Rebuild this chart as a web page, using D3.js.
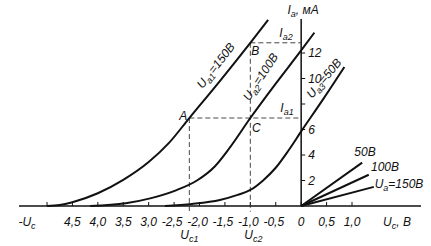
<!DOCTYPE html>
<html>
<head>
<meta charset="utf-8">
<script src="https://cdn.jsdelivr.net/npm/d3@7"></script>
<style>
  body { margin: 0; background: #fff; }
  text { font-family: "Liberation Sans", Arial, sans-serif; font-style: italic; fill: #111; }
</style>
</head>
<body>
<svg id="chart" width="431" height="246"></svg>
<script>
// anode-grid characteristics, Ia (mA) vs Uc (V)
const ua150 = [[-5.0,0],[-4.75,0.08],[-4.5,0.3],[-4.0,1.0],[-3.5,2.05],[-3.0,3.45],[-2.6,4.95],[-2.2,6.9],[-1.6,9.8],[-1.0,12.8],[-0.65,14.6]];
const ua100 = [[-4.15,0],[-3.45,0.22],[-2.95,0.62],[-2.45,1.25],[-2.05,2.0],[-1.7,3.1],[-1.4,4.6],[-1.0,6.9],[-0.5,9.6],[0,12.2],[0.26,13.6]];
const ua50  = [[-2.68,0],[-2.15,0.16],[-1.6,0.47],[-1.25,0.87],[-1.0,1.26],[-0.76,1.97],[-0.5,3.0],[-0.25,4.35],[0,5.85],[0.42,8.3],[0.85,10.9]];
// positive-grid branches
const pos50  = [[0,0],[1.2,3.4]];
const pos100 = [[0,0],[1.33,2.45]];
const pos150 = [[0,0],[1.43,1.5]];

const xTicks = [-5.0,-4.5,-4.0,-3.5,-3.0,-2.5,-2.0,-1.5,-1.0,-0.5,0,0.5,1.0];
const xTickLabels = ["","4,5","4,0","3,5","3,0","-2,5","-2,0","-1,5","-1,0","-0,5","0","0,5","1,0"];
const yTicks = [2,4,6,8,10,12];
const yTickLabels = ["2","4","6","","10","12"];

const uc1 = -2.2, uc2 = -1.0, ia1 = 6.9, ia2 = 12.8;

const svg = d3.select("#chart");
const x = d3.scaleLinear().domain([-5, 1]).range([47, 352]);
const y = d3.scaleLinear().domain([0, 12]).range([206, 53]);

const line = d3.line().x(d => x(d[0])).y(d => y(d[1])).curve(d3.curveMonotoneX);
const ink = "#111";

// axes
svg.append("line").attr("x1", 19).attr("x2", 421).attr("y1", y(0)).attr("y2", y(0))
    .attr("stroke", ink).attr("stroke-width", 1.5);
svg.append("line").attr("x1", x(0)).attr("x2", x(0)).attr("y1", y(0)).attr("y2", 19)
    .attr("stroke", ink).attr("stroke-width", 1.5);

svg.selectAll(".xt").data(xTicks).join("line").attr("class", "xt")
    .attr("x1", d => x(d)).attr("x2", d => x(d))
    .attr("y1", y(0)).attr("y2", y(0) - 4)
    .attr("stroke", ink).attr("stroke-width", 1);
svg.selectAll(".xl").data(xTicks).join("text").attr("class", "xl")
    .attr("x", (d, i) => x(d) + (xTickLabels[i][0] === "-" ? -2 : 0))
    .attr("y", 226)
    .attr("text-anchor", "middle").attr("font-size", 12)
    .text((d, i) => xTickLabels[i]);

svg.selectAll(".yt").data(yTicks).join("line").attr("class", "yt")
    .attr("x1", x(0)).attr("x2", x(0) + 4)
    .attr("y1", d => y(d)).attr("y2", d => y(d))
    .attr("stroke", ink).attr("stroke-width", 1);
svg.selectAll(".yl").data(yTicks).join("text").attr("class", "yl")
    .attr("x", x(0) + 7).attr("y", d => y(d) + 4)
    .attr("font-size", 12)
    .text((d, i) => yTickLabels[i]);

// dashed construction lines
const dash = [
  [uc1, ia1, 0, ia1], [uc2, ia2, 0, ia2],
  [uc1, ia1, uc1, -0.55], [uc2, ia2, uc2, -0.45]
];
svg.selectAll(".dash").data(dash).join("line").attr("class", "dash")
    .attr("x1", d => x(d[0])).attr("y1", d => y(d[1]))
    .attr("x2", d => x(d[2])).attr("y2", d => y(d[3]))
    .attr("stroke", "#333").attr("stroke-width", 0.9)
    .attr("stroke-dasharray", "5,3");

// curves
[ua150, ua100, ua50, pos50, pos100, pos150].forEach(c => {
  svg.append("path").attr("d", line(c))
      .attr("fill", "none").attr("stroke", ink).attr("stroke-width", 2);
});

// label helper: parts = [[text, sub?], ...]
function label(cx, cy, angle, parts, anchor) {
  const t = svg.append("text")
      .attr("transform", `translate(${cx},${cy}) rotate(${angle})`)
      .attr("text-anchor", anchor || "middle").attr("font-size", 12);
  let sub = false;
  parts.forEach(p => {
    const s = t.append("tspan").text(p[0]);
    if (p[1] && !sub) { s.attr("dy", 3).attr("font-size", 9); sub = true; }
    else if (p[1]) { s.attr("font-size", 9); }
    else if (sub) { s.attr("dy", -3); sub = false; }
  });
  return t;
}

label(219, 68, -52, [["U"], ["a1", 1], ["=150В"]]);
label(264, 79, -57, [["U"], ["a2", 1], ["=100В"]]);
label(327, 81, -50, [["U"], ["a3", 1], ["=50В"]]);

label(303, 14, 0, [["I"], ["a", 1], [", мА"]], "middle");
label(286, 37, 0, [["I"], ["a2", 1]]);
label(287, 112, 0, [["I"], ["a1", 1]]);

label(x(uc1) - 6, y(ia1) + 2, 0, [["A"]]);
label(x(uc2) + 5, y(ia2) + 12, 0, [["B"]]);
label(x(uc2) + 6, y(ia1) + 14, 0, [["C"]]);

label(365, 156, 0, [["50В"]]);
label(385, 171, 0, [["100В"]]);
label(399, 188, 0, [["U"], ["a", 1], ["=150В"]]);

label(27, 226, 0, [["-U"], ["c", 1]]);
label(x(uc1), 239, 0, [["U"], ["c1", 1]]);
label(x(uc2) + 3, 239, 0, [["U"], ["c2", 1]]);
label(397, 226, 0, [["U"], ["c", 1], [", В"]]);
</script>
</body>
</html>
